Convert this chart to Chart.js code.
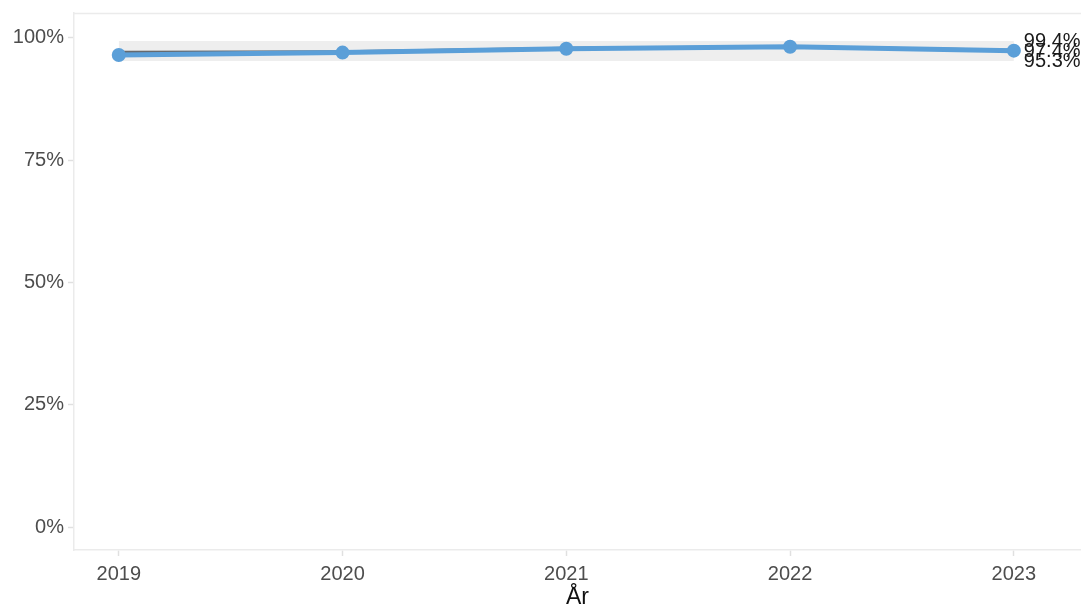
<!DOCTYPE html>
<html><head><meta charset="utf-8">
<script src="https://cdn.jsdelivr.net/npm/chart.js@4.4.1/dist/chart.umd.min.js"></script>
<style>html,body{margin:0;padding:0;background:#fff}#wrap{width:1081px;height:611px}</style>
</head><body><div id="wrap"><canvas id="c" width="1081" height="611"></canvas></div>
<script>
const years = [2019, 2020, 2021, 2022, 2023];
const valueSeries = [96.5, 97.0, 97.8, 98.2, 97.4];
const trendSeries = [97.1, 97.2, 97.9, 98.2, 97.5];
const upperBand = [99.4, 99.4, 99.4, 99.4, 99.4];
const lowerBand = [95.3, 95.3, 95.3, 95.3, 95.3];
const endLabels = [99.4, 97.4, 95.3];
const yTicks = [0, 25, 50, 75, 100];

const pts = a => a.map((v, i) => ({x: years[i], y: v}));
const FONT = '"Liberation Sans", Arial, sans-serif';

const frame = {
  id: 'frame',
  beforeDatasetsDraw(chart) {
    const {ctx, chartArea: a} = chart;
    ctx.save();
    ctx.strokeStyle = '#ebebeb';
    ctx.lineWidth = 1.5;
    ctx.beginPath();
    ctx.moveTo(a.left, a.top + 0.5);
    ctx.lineTo(a.right, a.top + 0.5);
    ctx.stroke();
    ctx.restore();
  },
  afterDatasetsDraw(chart) {
    const {ctx, scales: {x, y}} = chart;
    ctx.save();
    ctx.font = '20px ' + FONT;
    ctx.fillStyle = '#1a1a1a';
    ctx.textBaseline = 'middle';
    ctx.textAlign = 'left';
    const xp = x.getPixelForValue(years[years.length - 1]) + 10;
    endLabels.forEach(v => ctx.fillText(v.toFixed(1) + '%', xp, y.getPixelForValue(v) + 1));
    ctx.restore();
  }
};

new Chart(document.getElementById('c'), {
  type: 'line',
  data: {
    datasets: [
      {data: pts(upperBand), borderWidth: 0, pointRadius: 0, fill: false, borderColor: 'rgba(0,0,0,0)', order: 5},
      {data: pts(lowerBand), borderWidth: 0, pointRadius: 0, fill: '-1', backgroundColor: '#eeeeee', borderColor: 'rgba(0,0,0,0)', order: 4},
      {data: pts(trendSeries), borderColor: '#666a6e', borderWidth: 3, pointRadius: 0, fill: false, order: 3},
      {data: pts(valueSeries), borderColor: '#5b9fd8', backgroundColor: '#5b9fd8', borderWidth: 5, pointRadius: 4.5, pointHoverRadius: 4.5, fill: false, order: 1}
    ]
  },
  options: {
    responsive: false,
    animation: false,
    events: [],
    layout: {autoPadding: false, padding: {top: 13, right: 0, left: 0, bottom: 0}},
    plugins: {legend: {display: false}, tooltip: {enabled: false}},
    scales: {
      x: {
        type: 'linear',
        min: 2018.8,
        max: 2023.3,
        afterBuildTicks: s => { s.ticks = years.map(v => ({value: v})); },
        afterFit: s => { s.height = 61; s.paddingRight = 0; s.paddingLeft = 0; },
        ticks: {color: '#4d4d4d', font: {size: 20, family: FONT}, padding: 6, callback: v => String(v), maxRotation: 0},
        grid: {drawOnChartArea: false, tickLength: 6, color: '#e0e0e0', tickWidth: 1.5},
        border: {color: '#ebebeb', width: 1.5},
        title: {display: true, text: 'År', color: '#111', font: {size: 23, family: FONT}, padding: {top: 4, bottom: 0}}
      },
      y: {
        type: 'linear',
        min: -4.7,
        max: 105.1,
        afterBuildTicks: s => { s.ticks = yTicks.map(v => ({value: v})); },
        afterFit: s => { s.width = 74; s.paddingTop = 0; s.paddingBottom = 0; },
        ticks: {color: '#4d4d4d', font: {size: 20, family: FONT}, padding: 4, callback: v => v + '%'},
        grid: {drawOnChartArea: false, tickLength: 6, color: '#e0e0e0', tickWidth: 1.5},
        border: {color: '#ebebeb', width: 1.5}
      }
    }
  },
  plugins: [frame]
});
</script></body></html>
